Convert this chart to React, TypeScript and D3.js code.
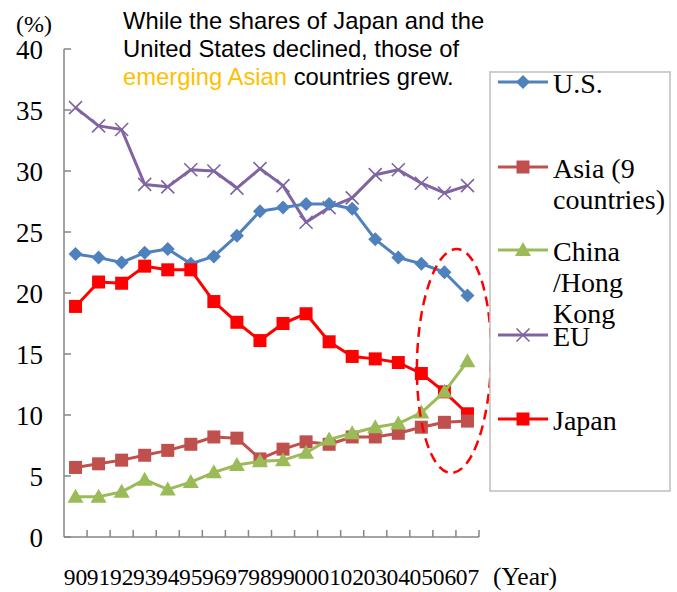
import React from "react";
import * as d3 from "d3";

// Share of world exports by region, 1990–2007 (%)
const years = ["90", "91", "92", "93", "94", "95", "96", "97", "98", "99", "00", "01", "02", "03", "04", "05", "06", "07"];
const usShare = [23.2, 22.9, 22.5, 23.3, 23.6, 22.4, 23.0, 24.7, 26.7, 27.0, 27.3, 27.3, 26.9, 24.4, 22.9, 22.4, 21.7, 19.8];
const asiaShare = [5.7, 6.0, 6.3, 6.7, 7.1, 7.6, 8.2, 8.1, 6.4, 7.2, 7.8, 7.6, 8.2, 8.2, 8.5, 9.0, 9.4, 9.5];
const chinaShare = [3.3, 3.3, 3.7, 4.7, 3.9, 4.5, 5.3, 5.9, 6.2, 6.3, 6.9, 8.0, 8.5, 9.0, 9.3, 10.2, 11.9, 14.4];
const euShare = [35.2, 33.7, 33.4, 28.9, 28.7, 30.1, 30.0, 28.6, 30.2, 28.8, 25.8, 27.0, 27.8, 29.7, 30.1, 29.0, 28.2, 28.8];
const japanShare = [18.9, 20.9, 20.8, 22.2, 21.9, 21.9, 19.3, 17.6, 16.1, 17.5, 18.3, 16.0, 14.8, 14.6, 14.3, 13.4, 11.9, 10.1];
const yTicks = [0, 5, 10, 15, 20, 25, 30, 35, 40];

type Marker = "diamond" | "square" | "triangle" | "cross";
interface Series {
  name: string[];
  values: number[];
  color: string;
  marker: Marker;
}

const series: Series[] = [
  { name: ["U.S."], values: usShare, color: "#4F81BD", marker: "diamond" },
  { name: ["Asia (9", "countries)"], values: asiaShare, color: "#C0504D", marker: "square" },
  { name: ["China", "/Hong", "Kong"], values: chinaShare, color: "#9BBB59", marker: "triangle" },
  { name: ["EU"], values: euShare, color: "#8064A2", marker: "cross" },
  { name: ["Japan"], values: japanShare, color: "#FF0000", marker: "square" },
];

// draw order: EU, U.S., Japan, Asia, China on top
const drawOrder = [3, 0, 4, 1, 2];

const W = 677;
const H = 592;
const plot = { left: 64, right: 479, top: 49, bottom: 537 };

const x = d3.scaleBand<string>().domain(years).range([plot.left, plot.right]);
const cx = (yr: string) => (x(yr) as number) + x.bandwidth() / 2;
const y = d3.scaleLinear().domain([0, 40]).range([plot.bottom, plot.top]);

const serif = "'Liberation Serif', 'Times New Roman', serif";
const sans = "'Liberation Sans', Arial, sans-serif";
const axisColor = "#868686";

function MarkerShape({ kind, px, py, color }: { kind: Marker; px: number; py: number; color: string }) {
  if (kind === "diamond") {
    const r = 7;
    return <path d={`M${px},${py - r}L${px + r},${py}L${px},${py + r}L${px - r},${py}Z`} fill={color} />;
  }
  if (kind === "square") {
    const s = 13;
    return <rect x={px - s / 2} y={py - s / 2} width={s} height={s} fill={color} />;
  }
  if (kind === "triangle") {
    const r = 8;
    return <path d={`M${px},${py - r}L${px + r},${py + r * 0.75}L${px - r},${py + r * 0.75}Z`} fill={color} />;
  }
  const r = 6.5;
  return (
    <path
      d={`M${px - r},${py - r}L${px + r},${py + r}M${px - r},${py + r}L${px + r},${py - r}`}
      stroke={color}
      strokeWidth={1.6}
      fill="none"
    />
  );
}

export default function App() {
  const line = d3
    .line<number>()
    .x((_, i) => cx(years[i]))
    .y((v) => y(v));

  const legendX = 490;
  const legendRows = [82, 167, 250, 335, 419];

  return (
    <svg
      width={W}
      height={H}
      viewBox={`0 0 ${W} ${H}`}
      style={{ position: "absolute", left: 0, top: 0, background: "#fff" }}
    >
      <rect x={0} y={0} width={W} height={H} fill="#fff" />

      {/* title */}
      <text fontFamily={sans} fontSize={23.8} fill="#000">
        <tspan x={123} y={29}>While the shares of Japan and the</tspan>
        <tspan x={123} y={57}>United States declined, those of</tspan>
        <tspan x={123} y={85}>
          <tspan fill="#FFC000">emerging Asian</tspan> countries grew.
        </tspan>
      </text>

      <text x={16} y={32} fontFamily={serif} fontSize={24} fill="#000">
        (%)
      </text>

      {/* y axis */}
      <line x1={plot.left} x2={plot.left} y1={plot.top} y2={plot.bottom} stroke={axisColor} strokeWidth={1.5} />
      {yTicks.map((t) => (
        <g key={t}>
          <line x1={plot.left} x2={plot.left + 7} y1={y(t)} y2={y(t)} stroke={axisColor} strokeWidth={1.5} />
          <text
            x={43}
            y={y(t)}
            dy="0.36em"
            textAnchor="end"
            fontFamily={serif}
            fontSize={27}
            fill="#000"
          >
            {t}
          </text>
        </g>
      ))}

      {/* x axis */}
      <line x1={plot.left} x2={plot.right} y1={plot.bottom} y2={plot.bottom} stroke={axisColor} strokeWidth={1.5} />
      {years.map((yr) => (
        <line
          key={"t" + yr}
          x1={(x(yr) as number) + x.bandwidth()}
          x2={(x(yr) as number) + x.bandwidth()}
          y1={plot.bottom}
          y2={plot.bottom - 7}
          stroke={axisColor}
          strokeWidth={1.5}
        />
      ))}
      {years.map((yr) => (
        <text key={"l" + yr} x={cx(yr)} y={585} textAnchor="middle" fontFamily={serif} fontSize={23.5} fill="#000">
          {yr}
        </text>
      ))}
      <text x={493} y={585} fontFamily={serif} fontSize={25.5} fill="#000">
        (Year)
      </text>

      {/* series */}
      {drawOrder.map((si) => {
        const s = series[si];
        return (
          <g key={s.name.join(" ")}>
            <path d={line(s.values) ?? ""} fill="none" stroke={s.color} strokeWidth={3} strokeLinejoin="round" />
            {s.values.map((v, i) => (
              <MarkerShape key={i} kind={s.marker} px={cx(years[i])} py={y(v)} color={s.color} />
            ))}
          </g>
        );
      })}

      {/* highlight of the latest years */}
      <ellipse
        cx={0}
        cy={0}
        rx={37}
        ry={112}
        transform="translate(454,361) rotate(1.5)"
        fill="none"
        stroke="#FF0000"
        strokeWidth={2.5}
        strokeDasharray="10 6"
      />

      {/* legend */}
      <rect x={legendX} y={72} width={180} height={419} fill="#fff" stroke="#BFBFBF" strokeWidth={1.5} />
      {series.map((s, i) => {
        const ry = legendRows[i];
        return (
          <g key={"lg" + i}>
            <line x1={498} x2={548} y1={ry} y2={ry} stroke={s.color} strokeWidth={3} />
            <MarkerShape kind={s.marker} px={523} py={ry} color={s.color} />
            <text fontFamily={serif} fontSize={28} fill="#000">
              {s.name.map((ln, k) => (
                <tspan key={k} x={553} y={ry + 11 + k * 31}>
                  {ln}
                </tspan>
              ))}
            </text>
          </g>
        );
      })}
    </svg>
  );
}
